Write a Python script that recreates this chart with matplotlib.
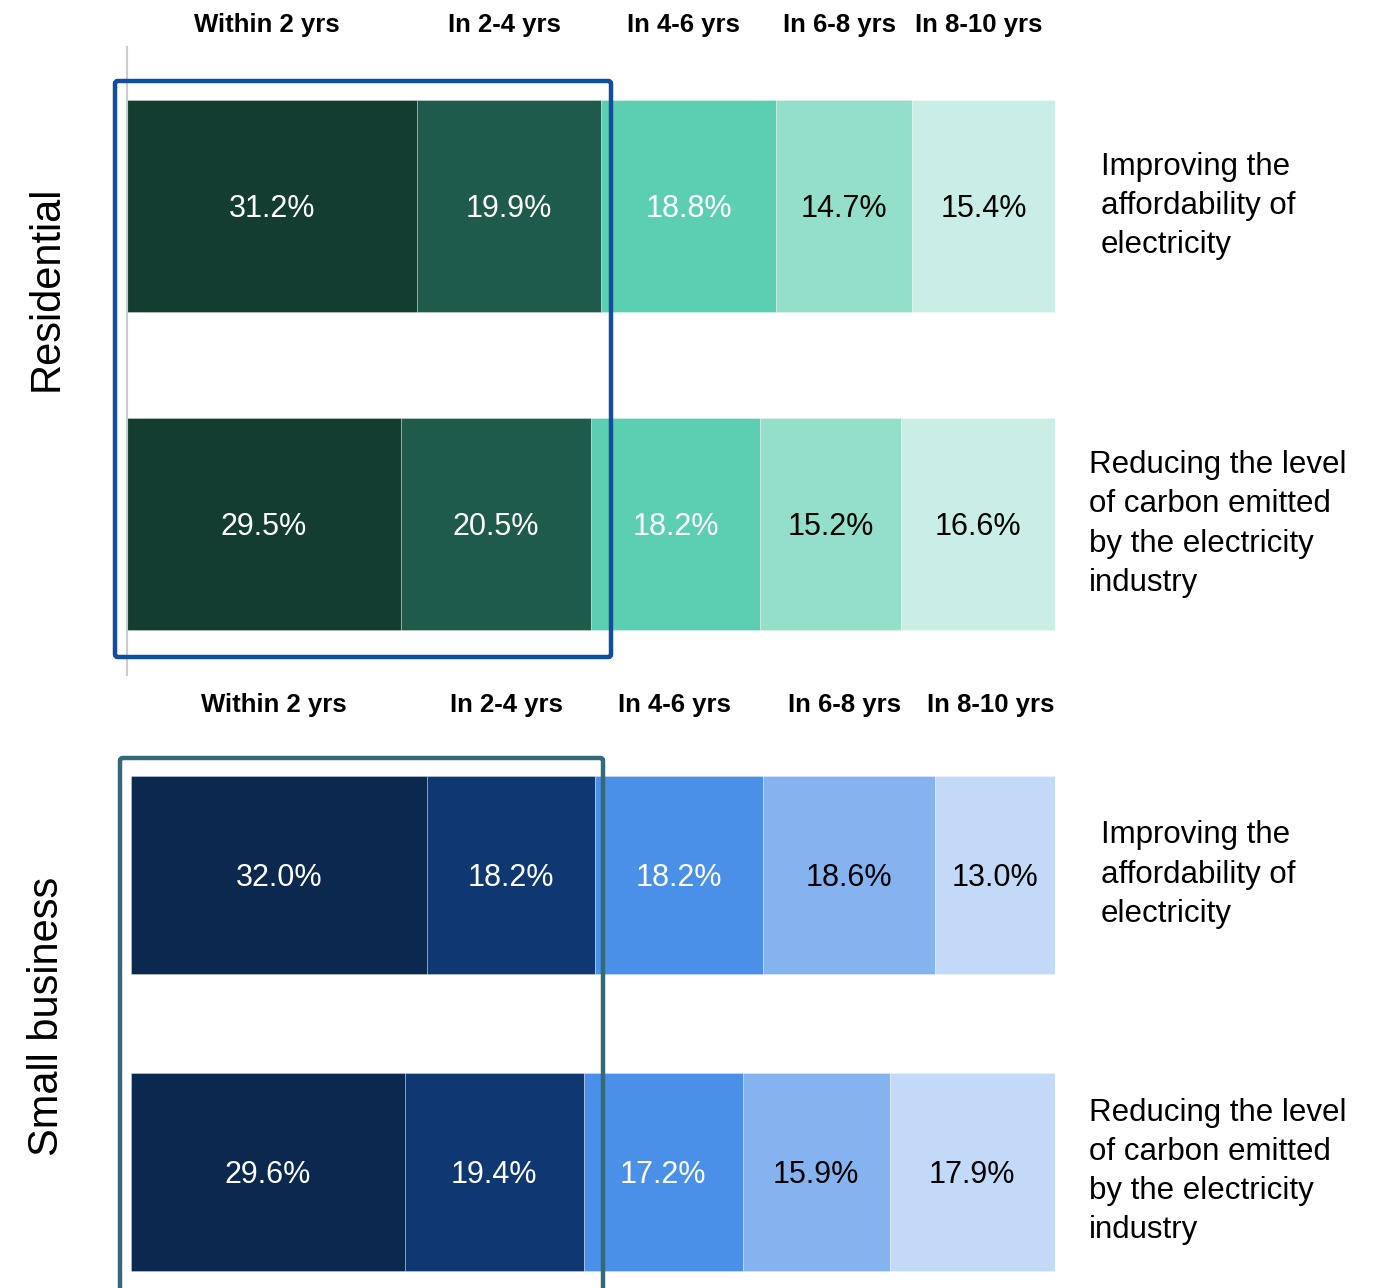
import matplotlib
matplotlib.use("Agg")
import matplotlib.pyplot as plt
import matplotlib.transforms as mtrans
from matplotlib.patches import FancyBboxPatch

plt.rcParams['font.family'] = ['Liberation Sans', 'DejaVu Sans']

periods = ['Within 2 yrs', 'In 2-4 yrs', 'In 4-6 yrs', 'In 6-8 yrs', 'In 8-10 yrs']
questions = ['Improving the\naffordability of\nelectricity',
             'Reducing the level\nof carbon emitted\nby the electricity\nindustry']

residential = [[31.2, 19.9, 18.8, 14.7, 15.4],
               [29.5, 20.5, 18.2, 15.2, 16.6]]
small_business = [[32.0, 18.2, 18.2, 18.6, 13.0],
                  [29.6, 19.4, 17.2, 15.9, 17.9]]

greens = ['#143d31', '#1e5b4b', '#5ccfb2', '#93dfca', '#c8eee5']
blues = ['#0b284e', '#0f3872', '#4a8fe8', '#85b3f0', '#c2d9f7']
text_colors = ['white', 'white', 'white', 'black', 'black']

W, H = 1391, 1288
fig = plt.figure(figsize=(W / 100, H / 100), dpi=100)


def fx(px):
    return px / W


def fy(py):
    return 1 - py / H


def panel(left, right, top, bottom, ylim, rows, colors, header_y, label, label_y,
          q_x, box, box_color, spine):
    ax = fig.add_axes([fx(left), fy(bottom), fx(right) - fx(left), fy(top) - fy(bottom)])
    side = mtrans.blended_transform_factory(ax.transAxes, ax.transData)
    for i, vals in enumerate(rows):
        start = 0
        for j, v in enumerate(vals):
            ax.barh(i, v, left=start, height=0.667, color=colors[j],
                    edgecolor=(1, 1, 1, 0.35), linewidth=0.6)
            ax.text(start + v / 2, i, f'{v:.1f}%', ha='center', va='center_baseline',
                    color=text_colors[j], fontsize=22)
            start += v
        ax.text(q_x[i], i, questions[i], transform=side,
                ha='left', va='center', fontsize=22.5, linespacing=1.4)
    ax.set_xlim(0, 100)
    ax.set_ylim(*ylim)
    for s in ['top', 'right', 'bottom']:
        ax.spines[s].set_visible(False)
    if spine:
        ax.spines['left'].set_color('#cccccc')
        ax.spines['left'].set_linewidth(1.5)
    else:
        ax.spines['left'].set_visible(False)
    ax.set_xticks([])
    ax.set_yticks([])

    # period headers above the first bar's segments
    hdr = mtrans.blended_transform_factory(ax.transData, fig.transFigure)
    start = 0
    for j, v in enumerate(rows[0]):
        ax.text(start + v / 2 - 0.5, fy(header_y), periods[j], transform=hdr,
                ha='center', va='center', fontsize=18.5, fontweight='bold')
        start += v

    fig.text(fx(47), fy(label_y), label, rotation=90, ha='center', va='center', fontsize=30)

    bx0, by0, bx1, by1 = box
    rect = FancyBboxPatch((fx(bx0), fy(by1)), fx(bx1) - fx(bx0), fy(by0) - fy(by1),
                          boxstyle='round,pad=0,rounding_size=0.002',
                          transform=fig.transFigure, fill=False,
                          edgecolor=box_color, linewidth=3.2, clip_on=False)
    fig.patches.append(rect)
    return ax


panel(127, 1055, 47, 675, (1.475, -0.5), residential, greens, 25,
      'Residential', 288, [1.0496, 1.0366], (115, 81, 611, 657), '#134e9c', True)
panel(131, 1055, 727, 1288, (1.392, -0.497), small_business, blues, 705,
      'Small business', 1016, [1.0498, 1.0368], (120, 758, 603, 1300), '#346a78', False)

fig.savefig('out.png', dpi=100)
